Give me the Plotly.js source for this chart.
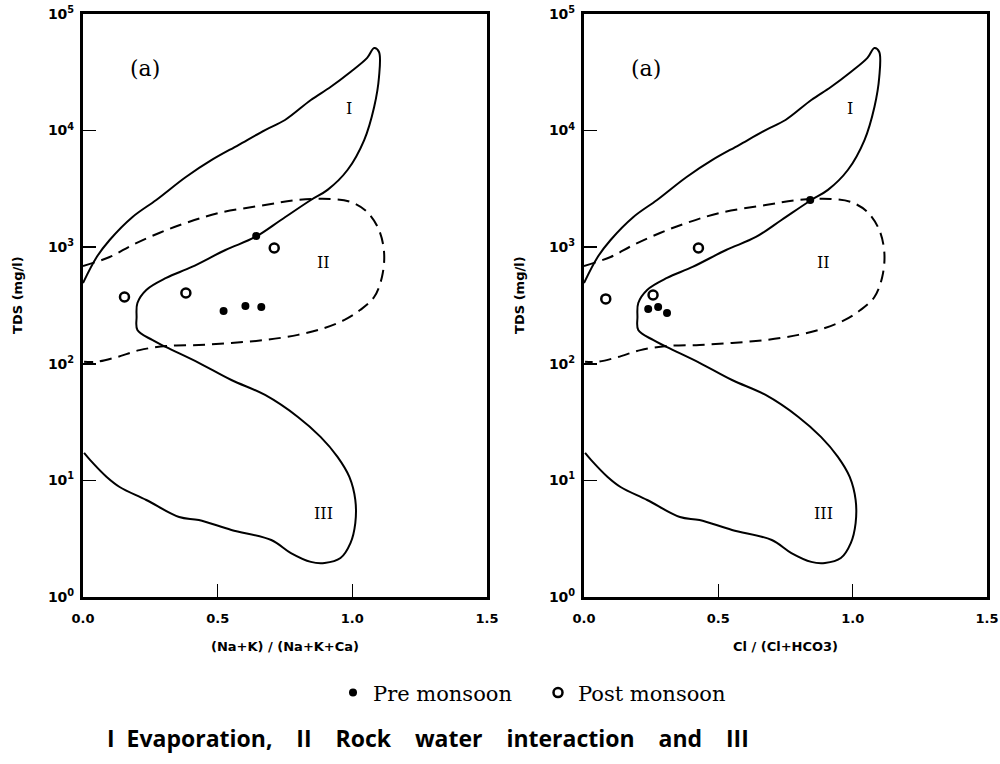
<!DOCTYPE html>
<html>
<head>
<meta charset="utf-8">
<script src="https://cdn.plot.ly/plotly-3.0.1.min.js"></script>
<style>html,body{margin:0;padding:0;background:#fff;}#chart{width:1000px;height:764px;}</style>
</head>
<body>
<div id="chart"></div>
<script>
// Gibbs boundary: solid envelope (zones I and III)
const solidX = [0.000,0.051,0.099,0.184,0.272,0.382,0.478,0.577,0.676,0.750,0.846,0.919,0.993,1.055,1.081,1.099,1.099,1.081,1.044,0.982,0.908,0.846,0.735,0.640,0.529,0.404,0.309,0.235,0.202,0.199,0.202,0.257,0.309,0.430,0.551,0.676,0.798,0.882,0.945,0.989,1.011,1.011,0.993,0.956,0.897,0.846,0.772,0.699,0.551,0.430,0.357,0.235,0.136,0.088,0.026,0.004];
const solidTDS = [493,824,1153,1816,2541,4000,5600,7520,10110,12330,18300,23650,31800,42000,51100,47200,28800,15950,8300,4590,3100,2540,1711,1223,946,677,545,430,332,252,195,160,139,102,72.6,54,35,23.6,15.9,10.7,6.79,4.31,2.9,2.16,1.96,2.0,2.38,3.08,3.76,4.57,4.85,6.79,8.78,10.7,15.0,17.2];
// Gibbs boundary: dashed envelope (zone II)
const dashX = [0.000,0.099,0.184,0.283,0.382,0.504,0.676,0.798,0.919,0.993,1.055,1.099,1.118,1.110,1.081,1.029,0.971,0.897,0.798,0.676,0.551,0.430,0.309,0.210,0.125,0.051,0.004];
const dashTDS = [690,824,1045,1324,1614,1964,2300,2540,2590,2443,2004,1406,891,555,374,289,238,203,177,160,151,145,142,131,114,104,104];

// Samples, panel 1: (Na+K)/(Na+K+Ca)
const preNa = [0.522,0.603,0.662,0.643];
const preNaTDS = [284,313,307,1247];
const postNa = [0.154,0.382,0.710];
const postNaTDS = [374,405,985];
// Samples, panel 2: Cl/(Cl+HCO3)
const preCl = [0.239,0.276,0.309,0.842];
const preClTDS = [295,307,273,2540];
const postCl = [0.081,0.257,0.426];
const postClTDS = [360,389,985];

const yTickVals = [1,10,100,1000,10000,100000];
const yTickText = ['10<sup>0</sup>','10<sup>1</sup>','10<sup>2</sup>','10<sup>3</sup>','10<sup>4</sup>','10<sup>5</sup>'];
const xTickVals = [0,0.5,1.0,1.5];
const xTickText = ['0.0','0.5','1.0','1.5'];
const xTitles = ['(Na+K) / (Na+K+Ca)','Cl / (Cl+HCO3)'];
const yTitle = 'TDS (mg/l)';
const seriesNames = ['Pre monsoon','Post monsoon'];
const zoneLabels = ['I','II','III'];
const zoneX = [0.989,0.893,0.893];
const zoneTDS = [15600,732,5.25];
const panelLabel = '(a)';
const caption = 'I Evaporation, II Rock water interaction and III';

const traces = [];
['', '2'].forEach((s, i) => {
  const xa = 'x' + s, ya = 'y' + s;
  traces.push({x: solidX, y: solidTDS, xaxis: xa, yaxis: ya, mode: 'lines', type: 'scatter',
    line: {color: '#000', width: 2, shape: 'spline', smoothing: 1.0}, showlegend: false, hoverinfo: 'skip'});
  traces.push({x: dashX, y: dashTDS, xaxis: xa, yaxis: ya, mode: 'lines', type: 'scatter',
    line: {color: '#000', width: 2, dash: '12px,7px', shape: 'spline', smoothing: 1.0}, showlegend: false, hoverinfo: 'skip'});
  traces.push({x: i === 0 ? preNa : preCl, y: i === 0 ? preNaTDS : preClTDS, xaxis: xa, yaxis: ya,
    mode: 'markers', type: 'scatter', name: seriesNames[0], legendgroup: 'pre', showlegend: i === 0,
    marker: {symbol: 'circle', size: 8, color: '#000'}});
  traces.push({x: i === 0 ? postNa : postCl, y: i === 0 ? postNaTDS : postClTDS, xaxis: xa, yaxis: ya,
    mode: 'markers', type: 'scatter', name: seriesNames[1], legendgroup: 'post', showlegend: i === 0,
    marker: {symbol: 'circle-open', size: 9, color: '#000', line: {width: 2.5, color: '#000'}}});
});

const boldSans = {family: 'DejaVu Sans', size: 13, color: '#000', weight: 'bold'};
function xAxis(dom, title, anchor) {
  return {domain: dom, anchor: anchor, range: [0, 1.5], tickvals: xTickVals, ticktext: xTickText,
    ticks: 'inside', ticklen: 13, tickwidth: 1.5, tickcolor: '#000', showline: true, linewidth: 3,
    linecolor: '#000', mirror: true, showgrid: false, zeroline: false, tickfont: boldSans,
    ticklabelstandoff: 7,
    title: {text: title, font: boldSans, standoff: 18}};
}
function yAxis(anchor) {
  return {domain: [0.2186, 0.9817], anchor: anchor, type: 'log', range: [0, 5],
    tickvals: yTickVals, ticktext: yTickText, ticks: 'inside', ticklen: 13, tickwidth: 1.5,
    tickcolor: '#000', showline: true, linewidth: 3, linecolor: '#000', mirror: true,
    showgrid: false, zeroline: false, tickfont: {family: 'DejaVu Sans', size: 14, color: '#000', weight: 'bold'},
    ticklabelstandoff: 3};
}

const annotations = [];
['', '2'].forEach(s => {
  annotations.push({xref: 'x' + s, yref: 'y' + s, x: 0.23, y: Math.log10(34400), text: panelLabel,
    showarrow: false, font: {family: 'DejaVu Serif', size: 22, color: '#000'}});
  zoneLabels.forEach((t, k) => annotations.push({xref: 'x' + s, yref: 'y' + s, x: zoneX[k],
    y: Math.log10(zoneTDS[k]), text: t, showarrow: false, font: {family: 'DejaVu Serif', size: 16, color: '#000'}}));
});
// y-axis titles
[0.018, 0.520].forEach(px => annotations.push({xref: 'paper', yref: 'paper', x: px, y: 0.614,
  xanchor: 'center', yanchor: 'middle', text: yTitle, textangle: -90, showarrow: false, font: boldSans}));
// caption (justified-looking word spacing)
const capWords = caption.split(' ');
const capText = capWords[0] + '&nbsp; ' + capWords.slice(1).join('&nbsp;&nbsp;&nbsp; ');
annotations.push({xref: 'paper', yref: 'paper', x: 0.105, y: 0.034, xanchor: 'left', yanchor: 'middle',
  text: capText, showarrow: false, font: {family: 'Open Sans', size: 23, color: '#000', weight: 'bold'}});

const layout = {
  width: 1000, height: 764, margin: {l: 0, r: 0, t: 0, b: 0},
  paper_bgcolor: '#fff', plot_bgcolor: '#fff',
  xaxis: xAxis([0.083, 0.487], xTitles[0], 'y'),
  yaxis: yAxis('x'),
  xaxis2: xAxis([0.584, 0.987], xTitles[1], 'y2'),
  yaxis2: yAxis('x2'),
  showlegend: true,
  legend: {orientation: 'h', x: 0.333, y: 0.093, xanchor: 'left', yanchor: 'middle',
    font: {family: 'DejaVu Serif', size: 21, color: '#000'}, itemwidth: 30, entrywidth: 160,
    bgcolor: 'rgba(0,0,0,0)'},
  annotations: annotations
};
Plotly.newPlot('chart', traces, layout, {displayModeBar: false, staticPlot: true});
</script>
</body>
</html>
